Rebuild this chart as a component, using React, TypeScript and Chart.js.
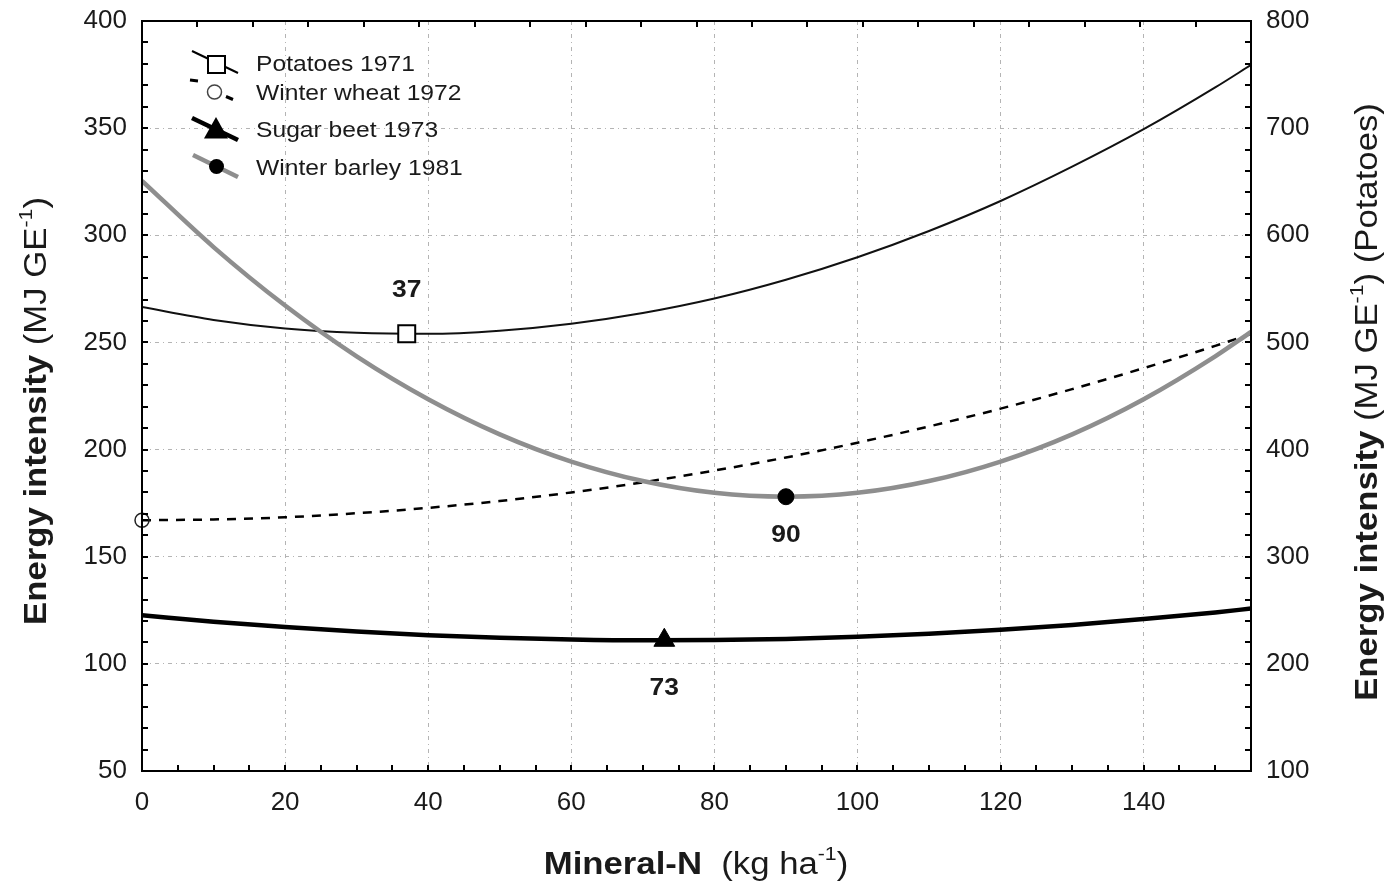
import React, { useEffect, useRef } from 'react';
import { Chart, registerables } from 'chart.js';

Chart.register(...registerables);

// ---- data ----
const N_RATES = [0, 10, 20, 30, 40, 50, 60, 70, 80, 90, 100, 110, 120, 130, 140, 150, 155];
// right axis (Potatoes)
const POTATOES_1971 = [533, 521, 513, 509, 508, 511, 517.5, 527.5, 541, 558.5, 579.5, 604, 632, 664, 699, 738, 759];
// left axis
const WINTER_WHEAT_1972 = [167, 167.4, 168.4, 170.3, 172.8, 176, 180, 184.7, 190.2, 196.3, 203.2, 210.8, 219.1, 228.2, 238, 248.4, 254];
const SUGAR_BEET_1973 = [122.7, 119.7, 117.2, 115.1, 113.4, 112.2, 111.4, 111.0, 111.1, 111.6, 112.6, 114.0, 115.9, 118.1, 120.9, 124.0, 125.8];
const WINTER_BARLEY_1981 = [325.4, 294.5, 267.2, 243.5, 223.5, 207.1, 194.4, 185.3, 179.8, 178, 179.8, 185.3, 194.4, 207.1, 223.5, 243.5, 254.9];

const SERIES_NAMES = ['Potatoes 1971', 'Winter wheat 1972', 'Sugar beet 1973', 'Winter barley 1981'];
const OPTIMUM_N = [37, 0, 73, 90];
const OPTIMUM_VALUE = [508, 167, 111, 178];
const OPTIMUM_LABELS = ['37', '', '73', '90'];

const X_MIN = 0;
const X_MAX = 155;
const X_STEP = 20;
const Y_MIN = 50;
const Y_MAX = 400;
const Y_STEP = 50;
const Y1_MIN = 100;
const Y1_MAX = 800;
const Y1_STEP = 100;

const FAMILY = "'Liberation Sans', Arial, Helvetica, sans-serif";
const GRAY = '#8e8e8e';
const STRETCH = 1.12;

type Seg = { t: string; bold?: boolean; sup?: boolean };

function drawRich(ctx: CanvasRenderingContext2D, segs: Seg[], cx: number, cy: number, size: number, angle: number, sx: number, align: 'center' | 'left' = 'center') {
  ctx.save();
  ctx.translate(cx, cy);
  ctx.rotate(angle);
  ctx.scale(sx, 1);
  ctx.textBaseline = 'alphabetic';
  ctx.textAlign = 'left';
  ctx.fillStyle = '#1a1a1a';
  const fontFor = (s: Seg) => `${s.bold ? 'bold ' : ''}${s.sup ? Math.round(size * 0.62) : size}px ${FAMILY}`;
  let total = 0;
  const widths = segs.map((s) => {
    ctx.font = fontFor(s);
    const w = ctx.measureText(s.t).width;
    total += w;
    return w;
  });
  let x = align === 'center' ? -total / 2 : 0;
  const base = size * 0.358;
  segs.forEach((s, i) => {
    ctx.font = fontFor(s);
    ctx.fillText(s.t, x, s.sup ? base - size * 0.45 : base);
    x += widths[i];
  });
  ctx.restore();
}

const framePlugin = {
  id: 'frameTicks',
  afterDatasetsDraw(chart: any) {
    const { ctx, chartArea: a, scales } = chart;
    const ys = scales.y;
    const y1 = scales.y1;
    const xs = scales.x;
    ctx.save();
    ctx.strokeStyle = '#000';
    ctx.lineWidth = 2;
    ctx.setLineDash([]);
    ctx.strokeRect(a.left, a.top, a.right - a.left, a.bottom - a.top);
    ctx.beginPath();
    for (let v = Y_MIN; v <= Y_MAX; v += 10) {
      const p = Math.round(ys.getPixelForValue(v));
      ctx.moveTo(a.left, p);
      ctx.lineTo(a.left + 6, p);
    }
    for (let v = Y1_MIN; v <= Y1_MAX; v += 20) {
      const p = Math.round(y1.getPixelForValue(v));
      ctx.moveTo(a.right, p);
      ctx.lineTo(a.right - 6, p);
    }
    for (let v = X_MIN; v <= X_MAX; v += 5) {
      const p = Math.round(xs.getPixelForValue(v));
      ctx.moveTo(p, a.bottom);
      ctx.lineTo(p, a.bottom - 6);
    }
    for (let i = 1; i < 20; i++) {
      const p = Math.round(a.left + (i * (a.right - a.left)) / 20);
      ctx.moveTo(p, a.top);
      ctx.lineTo(p, a.top + 6);
    }
    ctx.stroke();
    ctx.restore();
  },
  afterDraw(chart: any) {
    const { ctx, scales } = chart;
    // axis titles
    drawRich(ctx, [{ t: 'Energy intensity', bold: true }, { t: ' (MJ GE' }, { t: '-1', sup: true }, { t: ')' }], 35, 411, 31, -Math.PI / 2, STRETCH);
    drawRich(ctx, [{ t: 'Energy intensity', bold: true }, { t: ' (MJ GE' }, { t: '-1', sup: true }, { t: ') (Potatoes)' }], 1366, 402, 31, -Math.PI / 2, STRETCH);
    drawRich(ctx, [{ t: 'Mineral-N', bold: true }, { t: '  (kg ha' }, { t: '-1', sup: true }, { t: ')' }], 696, 863, 31, 0, STRETCH);

    // optimum labels
    const offsets = [-45, 0, 46, 37];
    OPTIMUM_LABELS.forEach((lab, i) => {
      if (!lab) return;
      const sc = i === 0 ? scales.y1 : scales.y;
      const px = scales.x.getPixelForValue(OPTIMUM_N[i]);
      const py = sc.getPixelForValue(OPTIMUM_VALUE[i]) + offsets[i];
      drawRich(ctx, [{ t: lab, bold: true }], px, py, 24, 0, 1.1);
    });

    // legend
    ctx.save();
    ctx.setLineDash([]);
    ctx.lineCap = 'butt';
    // Potatoes
    ctx.strokeStyle = '#000';
    ctx.lineWidth = 2;
    ctx.beginPath();
    ctx.moveTo(192, 51);
    ctx.lineTo(238, 73);
    ctx.stroke();
    ctx.fillStyle = '#fff';
    ctx.fillRect(208, 56, 17, 17);
    ctx.strokeRect(208, 56, 17, 17);
    // Winter wheat (dashed sample)
    ctx.lineWidth = 3;
    ctx.beginPath();
    ctx.moveTo(190, 80);
    ctx.lineTo(198, 81);
    ctx.moveTo(226, 96.5);
    ctx.lineTo(233, 99.5);
    ctx.stroke();
    ctx.lineWidth = 1.5;
    ctx.strokeStyle = '#444';
    ctx.beginPath();
    ctx.arc(214.5, 92, 7, 0, Math.PI * 2);
    ctx.fillStyle = '#fff';
    ctx.fill();
    ctx.stroke();
    // Sugar beet
    ctx.strokeStyle = '#000';
    ctx.lineWidth = 4.5;
    ctx.beginPath();
    ctx.moveTo(192, 118);
    ctx.lineTo(238, 140);
    ctx.stroke();
    ctx.fillStyle = '#000';
    ctx.beginPath();
    ctx.moveTo(216, 117);
    ctx.lineTo(228, 138.5);
    ctx.lineTo(204, 138.5);
    ctx.closePath();
    ctx.fill();
    // Winter barley
    ctx.strokeStyle = GRAY;
    ctx.lineWidth = 4.5;
    ctx.beginPath();
    ctx.moveTo(193, 155);
    ctx.lineTo(238, 177);
    ctx.stroke();
    ctx.fillStyle = '#000';
    ctx.beginPath();
    ctx.arc(216.5, 166.5, 7.5, 0, Math.PI * 2);
    ctx.fill();
    ctx.restore();

    const rowsY = [63, 92, 129, 167];
    SERIES_NAMES.forEach((name, i) => {
      drawRich(ctx, [{ t: name }], 256, rowsY[i], 22, 0, STRETCH, 'left');
    });
  },
};

function lineData(values: number[]) {
  return N_RATES.map((n, i) => ({ x: n, y: values[i] }));
}

export default function App() {
  const ref = useRef<HTMLCanvasElement | null>(null);
  useEffect(() => {
    if (!ref.current) return;
    const tickFont = { family: FAMILY, size: 26 };
    const markerBase = { type: 'line' as const, showLine: false, clip: false as any };
    const noVPad = (s: any, w: number) => { s.width = w; s.paddingTop = 0; s.paddingBottom = 0; };
    const chart = new Chart(ref.current, {
      type: 'line',
      data: {
        datasets: [
          { ...markerBase, label: 'opt-potatoes', yAxisID: 'y1', data: [{ x: OPTIMUM_N[0], y: OPTIMUM_VALUE[0] }], pointStyle: 'rect', pointRadius: 12, pointBackgroundColor: '#fff', pointBorderColor: '#000', pointBorderWidth: 2, order: 0 },
          { ...markerBase, label: 'opt-wheat', yAxisID: 'y', data: [{ x: OPTIMUM_N[1], y: OPTIMUM_VALUE[1] }], pointStyle: 'circle', pointRadius: 7, pointBackgroundColor: 'rgba(255,255,255,0)', pointBorderColor: '#222', pointBorderWidth: 1.5, order: 0 },
          { ...markerBase, label: 'opt-beet', yAxisID: 'y', data: [{ x: OPTIMUM_N[2], y: OPTIMUM_VALUE[2] }], pointStyle: 'triangle', pointRadius: 12, pointBackgroundColor: '#000', pointBorderColor: '#000', pointBorderWidth: 1, order: 0 },
          { ...markerBase, label: 'opt-barley', yAxisID: 'y', data: [{ x: OPTIMUM_N[3], y: OPTIMUM_VALUE[3] }], pointStyle: 'circle', pointRadius: 8, pointBackgroundColor: '#000', pointBorderColor: '#000', pointBorderWidth: 1, order: 0 },
          { label: SERIES_NAMES[3], yAxisID: 'y', data: lineData(WINTER_BARLEY_1981), borderColor: GRAY, borderWidth: 4.5, pointRadius: 0, cubicInterpolationMode: 'monotone', fill: false, order: 1 },
          { label: SERIES_NAMES[1], yAxisID: 'y', data: lineData(WINTER_WHEAT_1972), borderColor: '#000', borderWidth: 2.5, borderDash: [9, 8], pointRadius: 0, cubicInterpolationMode: 'monotone', fill: false, order: 2 },
          { label: SERIES_NAMES[0], yAxisID: 'y1', data: lineData(POTATOES_1971), borderColor: '#111', borderWidth: 2, pointRadius: 0, cubicInterpolationMode: 'monotone', fill: false, order: 3 },
          { label: SERIES_NAMES[2], yAxisID: 'y', data: lineData(SUGAR_BEET_1973), borderColor: '#000', borderWidth: 4.5, pointRadius: 0, cubicInterpolationMode: 'monotone', fill: false, order: 4 },
        ] as any,
      },
      options: {
        animation: false,
        responsive: true,
        maintainAspectRatio: false,
        events: [],
        layout: { padding: { top: 21, left: 0, right: 0, bottom: 0 } },
        plugins: { legend: { display: false }, tooltip: { enabled: false } },
        scales: {
          x: {
            type: 'linear',
            position: 'bottom',
            min: X_MIN,
            max: X_MAX,
            ticks: { stepSize: X_STEP, includeBounds: false, font: tickFont, color: '#1a1a1a', padding: 16, maxRotation: 0 },
            grid: { color: '#b4b4b4', lineWidth: 1, drawTicks: false },
            border: { display: false, dash: [4, 4, 1, 4] },
            afterFit: (s: any) => { s.height = 111; s.paddingLeft = 0; s.paddingRight = 0; },
          },
          y: {
            type: 'linear',
            position: 'left',
            min: Y_MIN,
            max: Y_MAX,
            ticks: { stepSize: Y_STEP, font: tickFont, color: '#1a1a1a', padding: 15 },
            grid: { color: '#b4b4b4', lineWidth: 1, drawTicks: false },
            border: { display: false, dash: [4, 4, 1, 4] },
            afterFit: (s: any) => noVPad(s, 142),
          },
          y1: {
            type: 'linear',
            position: 'right',
            min: Y1_MIN,
            max: Y1_MAX,
            ticks: { stepSize: Y1_STEP, font: tickFont, color: '#1a1a1a', padding: 15 },
            grid: { display: false, drawOnChartArea: false, drawTicks: false },
            border: { display: false },
            afterFit: (s: any) => noVPad(s, 137),
          },
        },
      } as any,
      plugins: [framePlugin],
    });
    return () => chart.destroy();
  }, []);

  return (
    <div style={{ position: 'absolute', left: 0, top: 0, width: 1388, height: 882, background: '#fff' }}>
      <canvas ref={ref} />
    </div>
  );
}
